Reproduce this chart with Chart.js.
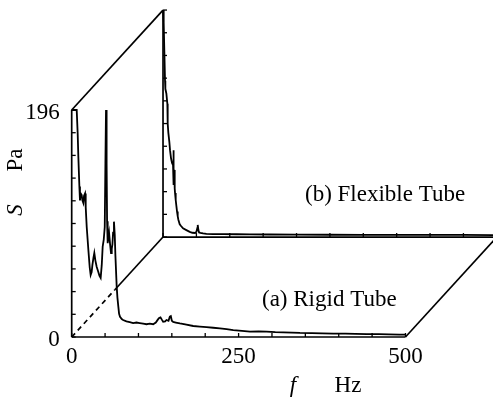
<!DOCTYPE html>
<html>
<head>
<meta charset="utf-8">
<script src="https://cdn.jsdelivr.net/npm/chart.js@4"></script>
<style>
html,body{margin:0;padding:0;background:#fff;}
#c{display:block;}
</style>
</head>
<body>
<canvas id="c" width="493" height="398"></canvas>
<script>
// ---- data ----
const frontFreq = [0,3,7.5,9,10,11.5,12.4,13.5,15,16,17.4,18.5,20,21,22.5,25,27,28.4,29.9,31,32.5,33.9,35.5,37.4,40,41.5,43.4,45,46.4,48,49.5,50.5,51.4,52.3,53,53.9,55,56,57.5,58.9,60,61,62,63.3,64.5,65.5,67.4,68.5,69.9,71,72.4,75,77,82,87,92,97,102,107,112,117,122,126,129,131,133,135,137,140,142,145,147,148.5,150,152,156,162,170,182,192,202,212,222,232,242,255,267,280,292,305,317,330,342,360,375,392,410,425,442,460,475,491,500];
const frontS    = [196,196,196,175,155,130,118,124,122.6,118,115.7,122,124,112,95,75,60,53.5,56,62,68,72.5,66,60.7,56,53,51,62,78,84,95,150,196,150,100,81,86,90,80,72.5,76,80,90,99.6,88,70,43.5,34,26,20,17.5,15.5,14.7,13.5,12.8,12,12.5,12,11.5,11,11.5,11,12.5,15,16.5,17,15,13.2,13.5,14.7,14,17.5,18,14,13,12.5,11.8,11,9.5,9,8.5,8,7.5,6.8,6,5.2,4.6,4.8,4.6,4.2,4,3.8,3.5,3.4,3.2,3,2.9,2.7,2.5,2.4,2.2,2,2];
const backFreq  = [0,1,2,3,3.5,5,6.5,7,8,9.5,10.5,12,13.5,15,15.5,15.8,16.2,16.8,17.5,18,19,20,21,22,23,25,27,30,35,40,44,48,50,51.5,52,53,54,56,60,65,75,90,110,130,160,200,250,300,350,400,450,500];
const backS     = [196,185,160,135,128,124,115,98,90,82,75,68,64,62,75,66,45,58,42,38,32,27,22,18,15,11,9.5,7.5,6,4.5,3.7,3.5,4.5,8,10.5,6,4,3.7,3.2,2.8,2.6,2.5,2.4,2.3,2.2,2.1,2,1.9,1.9,1.8,1.8,1.7];
const xTickLabels = ['0','250','500'];
const xTickValues = [0,250,500];
const yTickLabels = ['0','196'];
const yTickValues = [0,196];
const seriesNames = ['(a) Rigid Tube','(b) Flexible Tube'];
const axisNames = {x:['f','Hz'], y:['S','Pa']};

// ---- projection of the back plane (oblique offset, in data units) ----
const SMAX = 196, FMAX = 500;
const DX = 136.8, DY = 86.3;

const front = frontFreq.map((f,i)=>({x:f, y:frontS[i]}));
const back  = backFreq.map((f,i)=>({x:f+DX, y:backS[i]+DY}));

const FONT = '"Liberation Serif", "Times New Roman", serif';

const framePlugin = {
  id:'frame',
  afterDatasetsDraw(chart){
    const ctx = chart.ctx, xs = chart.scales.x, ys = chart.scales.y;
    const P = (f,s)=>[xs.getPixelForValue(f), ys.getPixelForValue(s)];
    const B = (f,s)=>P(f+DX, s+DY);
    ctx.save();
    ctx.strokeStyle = '#000';
    ctx.lineWidth = 1.7;
    ctx.lineCap = 'butt';
    const line = (a,b)=>{ctx.beginPath();ctx.moveTo(a[0],a[1]);ctx.lineTo(b[0],b[1]);ctx.stroke();};
    // front axes
    line(P(0,0),P(0,SMAX));
    line(P(0,0),P(FMAX,0));
    // back axes
    line(B(0,0),B(0,SMAX));
    line(B(0,0),B(FMAX,0));
    // connecting edges
    line(P(0,SMAX),B(0,SMAX));
    line(P(FMAX,0),B(FMAX,0));
    const t = 0.47;
    const a0 = P(0,0), a1 = P(DX*t, DY*t), a2 = B(0,0);
    ctx.setLineDash([5,4]);
    line(a0,a1);
    ctx.setLineDash([]);
    line(a1,a2);
    // ticks
    ctx.lineWidth = 1.3;
    for(let i=0;i<=10;i++){
      const s = SMAX*i/10;
      let p = P(0,s); line(p,[p[0]+4,p[1]]);
      p = B(0,s); line(p,[p[0]+4,p[1]]);
    }
    for(let f=0; f<=FMAX; f+=50){
      let p = P(f,0); line(p,[p[0],p[1]-4]);
      p = B(f,0); line(p,[p[0],p[1]-4]);
    }
    // tick labels
    ctx.fillStyle = '#000';
    ctx.font = '23px ' + FONT;
    ctx.textAlign = 'center';
    ctx.textBaseline = 'middle';
    xTickValues.forEach((v,i)=>{
      const p = P(v,0);
      ctx.fillText(xTickLabels[i], p[0], p[1]+20);
    });
    ctx.textAlign = 'right';
    yTickValues.forEach((v,i)=>{
      const p = P(0,v);
      ctx.fillText(yTickLabels[i], p[0]-12, p[1]+3);
    });
    // axis titles
    ctx.textAlign = 'center';
    ctx.font = 'italic 23px ' + FONT;
    ctx.fillText(axisNames.x[0], 293, 386);
    ctx.font = '23px ' + FONT;
    ctx.fillText(axisNames.x[1], 348, 386);
    ctx.save();
    ctx.translate(16, 0);
    ctx.rotate(-Math.PI/2);
    ctx.font = 'italic 23px ' + FONT;
    ctx.fillText(axisNames.y[0], -210, 0);
    ctx.font = '23px ' + FONT;
    ctx.fillText(axisNames.y[1], -160, 0);
    ctx.restore();
    // series labels
    ctx.textAlign = 'left';
    ctx.fillText(seriesNames[0], 262, 300);
    ctx.fillText(seriesNames[1], 305, 195);
    ctx.restore();
  }
};

new Chart(document.getElementById('c'), {
  type:'scatter',
  data:{datasets:[
    {label:seriesNames[0], data:front, showLine:true, borderColor:'#000', borderWidth:1.8, pointRadius:0, tension:0, fill:false},
    {label:seriesNames[1], data:back, showLine:true, borderColor:'#000', borderWidth:1.8, pointRadius:0, tension:0, fill:false}
  ]},
  options:{
    responsive:false,
    devicePixelRatio:1,
    animation:false,
    layout:{padding:0},
    plugins:{legend:{display:false}, tooltip:{enabled:false}},
    scales:{
      x:{type:'linear', display:false, min:-107.4, max:631.1},
      y:{type:'linear', display:false, min:-52.67, max:290.98}
    }
  },
  plugins:[framePlugin]
});
</script>
</body>
</html>
